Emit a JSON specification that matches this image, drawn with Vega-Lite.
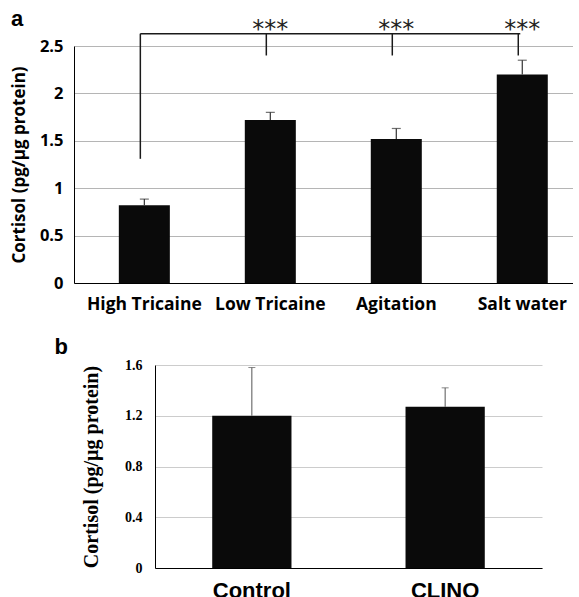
{
  "$schema": "https://vega.github.io/schema/vega-lite/v6.json",
  "padding": {"left": 10, "top": 7, "right": 0, "bottom": 0},
  "background": "white",
  "config": {
    "view": {"stroke": null},
    "axis": {"ticks": false, "domainColor": "#000000", "domainWidth": 1, "gridColor": "#b5b5b5", "gridWidth": 1, "labelColor": "#000000", "titleColor": "#000000"}
  },
  "spacing": 23,
  "vconcat": [
    {
      "title": {"text": "a", "anchor": "start", "frame": "bounds", "font": "Liberation Sans", "fontSize": 22, "fontWeight": "bold", "color": "#000000", "offset": -20, "dy": -7},
      "width": 499,
      "height": 237,
      "layer": [
        {
          "data": {"values": [
            {"group": "High Tricaine", "mean": 0.82, "upper": 0.885},
            {"group": "Low Tricaine", "mean": 1.72, "upper": 1.80},
            {"group": "Agitation", "mean": 1.52, "upper": 1.63},
            {"group": "Salt water", "mean": 2.20, "upper": 2.35}
          ]},
          "layer": [
            {
              "mark": {"type": "bar", "color": "#0a0a0a"},
              "encoding": {
                "x": {"field": "group", "type": "nominal", "sort": null,
                  "scale": {"domain": ["High Tricaine", "Low Tricaine", "Agitation", "Salt water"], "paddingInner": 0.595, "paddingOuter": 0.278, "align": 0.64},
                  "axis": {"title": null, "labelAngle": 0, "labelFont": "Open Sans", "labelFontSize": 17.5, "labelFontWeight": "bold", "labelPadding": 12, "grid": false}},
                "y": {"field": "mean", "type": "quantitative",
                  "scale": {"domain": [0, 2.5], "nice": false},
                  "axis": {"title": "Cortisol (pg/µg protein)", "values": [0, 0.5, 1, 1.5, 2, 2.5], "format": "~g", "labelFont": "Open Sans", "labelFontSize": 16.5, "labelFontWeight": "bold", "labelPadding": 11, "titleFont": "Open Sans", "titleFontSize": 17, "titleFontWeight": "bold", "titlePadding": 10.5}}
              }
            },
            {
              "mark": {"type": "rule", "color": "#333333", "strokeWidth": 1.2},
              "encoding": {
                "x": {"field": "group", "type": "nominal", "sort": null},
                "y": {"field": "mean", "type": "quantitative"},
                "y2": {"field": "upper"}
              }
            },
            {
              "mark": {"type": "tick", "color": "#333333", "thickness": 1.2, "size": 9, "orient": "horizontal"},
              "encoding": {
                "x": {"field": "group", "type": "nominal", "sort": null},
                "y": {"field": "upper", "type": "quantitative"}
              }
            }
          ]
        },
        {
          "data": {"values": [
            {"group": "High Tricaine", "top": 2.63, "bottom": 1.31},
            {"group": "Low Tricaine", "top": 2.63, "bottom": 2.40},
            {"group": "Agitation", "top": 2.63, "bottom": 2.40},
            {"group": "Salt water", "top": 2.63, "bottom": 2.40}
          ]},
          "mark": {"type": "rule", "color": "#1a1a1a", "strokeWidth": 1.5, "xOffset": -4},
          "encoding": {
            "x": {"field": "group", "type": "nominal", "sort": null},
            "y": {"field": "top", "type": "quantitative"},
            "y2": {"field": "bottom"}
          }
        },
        {
          "data": {"values": [
            {"from": "High Tricaine", "to": "Salt water", "level": 2.63}
          ]},
          "mark": {"type": "rule", "color": "#1a1a1a", "strokeWidth": 1.5, "xOffset": -4, "x2Offset": -2},
          "encoding": {
            "x": {"field": "from", "type": "nominal"},
            "x2": {"field": "to"},
            "y": {"field": "level", "type": "quantitative"}
          }
        },
        {
          "data": {"values": [
            {"group": "Low Tricaine", "label": "***", "level": 2.67},
            {"group": "Agitation", "label": "***", "level": 2.67},
            {"group": "Salt water", "label": "***", "level": 2.67}
          ]},
          "mark": {"type": "text", "font": "DejaVu Sans", "fontSize": 24, "baseline": "middle", "align": "center", "color": "#222222"},
          "encoding": {
            "x": {"field": "group", "type": "nominal", "sort": null},
            "y": {"field": "level", "type": "quantitative"},
            "text": {"field": "label"}
          }
        }
      ]
    },
    {
      "spacing": -21,
      "hconcat": [
        {
          "width": 1,
          "height": 1,
          "data": {"values": [{"k": "spacer"}]},
          "mark": {"type": "point", "opacity": 0, "size": 1, "strokeWidth": 0},
          "encoding": {}
        },
        {
          "title": {"text": "b", "anchor": "start", "frame": "bounds", "font": "Liberation Sans", "fontSize": 22, "fontWeight": "bold", "color": "#000000", "offset": 4, "dx": -27, "dy": 5},
          "width": 387,
          "height": 203,
          "data": {"values": [
            {"group": "Control", "mean": 1.20, "upper": 1.58},
            {"group": "CLINO", "mean": 1.27, "upper": 1.42}
          ]},
          "layer": [
            {
              "mark": {"type": "bar", "color": "#0a0a0a"},
              "encoding": {
                "x": {"field": "group", "type": "nominal", "sort": null,
                  "scale": {"paddingInner": 0.59, "paddingOuter": 0.296},
                  "axis": {"title": null, "labelAngle": 0, "labelFont": "Liberation Sans", "labelFontSize": 22, "labelFontWeight": "bold", "labelPadding": 12, "grid": false}},
                "y": {"field": "mean", "type": "quantitative",
                  "scale": {"domain": [0, 1.6], "nice": false},
                  "axis": {"title": "Cortisol (pg/µg protein)", "values": [0, 0.4, 0.8, 1.2, 1.6], "format": "~g", "gridColor": "#cccccc", "labelFont": "Liberation Serif", "labelFontSize": 14, "labelFontWeight": "bold", "labelPadding": 13, "titleFont": "Liberation Serif", "titleFontSize": 20, "titleFontWeight": "bold", "titlePadding": 23}}
              }
            },
            {
              "mark": {"type": "rule", "color": "#555555", "strokeWidth": 1},
              "encoding": {
                "x": {"field": "group", "type": "nominal", "sort": null},
                "y": {"field": "mean", "type": "quantitative"},
                "y2": {"field": "upper"}
              }
            },
            {
              "mark": {"type": "tick", "color": "#555555", "thickness": 1, "size": 7, "orient": "horizontal"},
              "encoding": {
                "x": {"field": "group", "type": "nominal", "sort": null},
                "y": {"field": "upper", "type": "quantitative"}
              }
            }
          ]
        }
      ]
    }
  ]
}
